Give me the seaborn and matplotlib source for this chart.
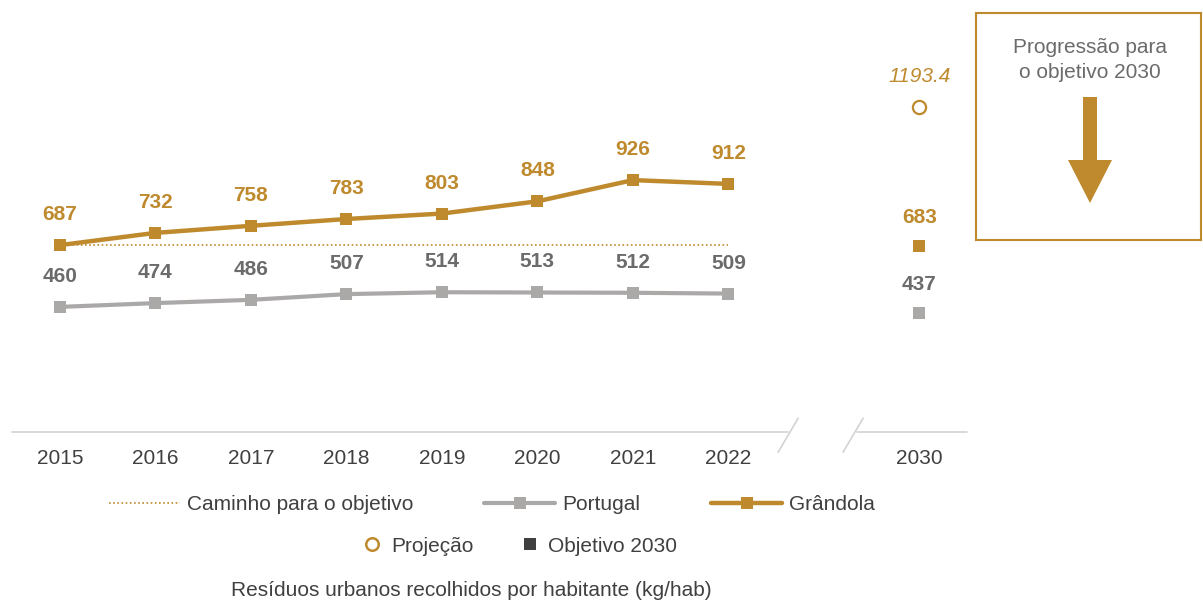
import matplotlib
matplotlib.use("Agg")
import matplotlib.pyplot as plt
import matplotlib.patches as mpatches
from matplotlib.lines import Line2D
import pandas as pd
import seaborn as sns

# ------------------------- Data -------------------------
years = ["2015", "2016", "2017", "2018", "2019", "2020", "2021", "2022"]
grandola = [687, 732, 758, 783, 803, 848, 926, 912]
portugal = [460, 474, 486, 507, 514, 513, 512, 509]
path_to_target = [687, 687, 687, 687, 687, 687, 687, 687]
target_year = "2030"
target_grandola = 683
target_portugal = 437
projection_grandola = 1193.4

GOLD = "#BF8A2E"
GREY_LINE = "#ABA8A8"
GREY_TEXT = "#6B6B6B"
DARK = "#404040"
FS = 15

# category positions: 2015..2022 then a gap, then 2030
pos = list(range(len(years)))
pos_2030 = len(years) + 1

df = pd.DataFrame({"pos": pos, "Grândola": grandola, "Portugal": portugal,
                   "Caminho": path_to_target})

# ------------------------- Style -------------------------
sns.set_style("white")
plt.rcParams["font.family"] = ["Liberation Sans", "DejaVu Sans"]

fig = plt.figure(figsize=(12.03, 6.01), dpi=100)
ax = fig.add_axes([0.01, 0.281, 0.794, 0.634])

# ------------------------- Lines -------------------------
sns.lineplot(data=df, x="pos", y="Caminho", ax=ax, color=GOLD, linewidth=1.2,
             linestyle=(0, (1, 1.5)), zorder=1)
sns.lineplot(data=df, x="pos", y="Portugal", ax=ax, color=GREY_LINE, linewidth=3,
             marker="s", markersize=8, markeredgewidth=0, zorder=2)
sns.lineplot(data=df, x="pos", y="Grândola", ax=ax, color=GOLD, linewidth=3.2,
             marker="s", markersize=9, markeredgewidth=0, zorder=3)

# 2030 points
ax.plot([pos_2030], [target_grandola], marker="s", markersize=9, color=GOLD,
        markeredgewidth=0, linestyle="none")
ax.plot([pos_2030], [target_portugal], marker="s", markersize=8, color=GREY_LINE,
        markeredgewidth=0, linestyle="none")
ax.plot([pos_2030], [projection_grandola], marker="o", markersize=9.5,
        markerfacecolor="white", markeredgecolor=GOLD, markeredgewidth=1.6,
        linestyle="none")

# ------------------------- Labels -------------------------
for x, v in zip(pos, grandola):
    ax.annotate(f"{v}", (x, v), xytext=(0, 22), textcoords="offset points",
                ha="center", va="center", fontsize=FS, fontweight="bold", color=GOLD)
for x, v in zip(pos, portugal):
    ax.annotate(f"{v}", (x, v), xytext=(0, 22), textcoords="offset points",
                ha="center", va="center", fontsize=FS, fontweight="bold", color=GREY_TEXT)
ax.annotate(f"{target_grandola}", (pos_2030, target_grandola), xytext=(0, 21),
            textcoords="offset points", ha="center", va="center", fontsize=FS,
            fontweight="bold", color=GOLD)
ax.annotate(f"{target_portugal}", (pos_2030, target_portugal), xytext=(0, 21),
            textcoords="offset points", ha="center", va="center", fontsize=FS,
            fontweight="bold", color=GREY_TEXT)
ax.annotate(f"{projection_grandola}", (pos_2030, projection_grandola), xytext=(0, 22),
            textcoords="offset points", ha="center", va="center", fontsize=FS,
            fontstyle="italic", color=GOLD)

# ------------------------- Axes -------------------------
ax.set_xlim(-0.5, pos_2030 + 0.5)
ax.set_ylim(0, 1400)
ax.set_xticks(pos + [pos_2030])
ax.set_xticklabels(years + [target_year], fontsize=FS, color=DARK)
ax.set_yticks([])
ax.tick_params(axis="x", length=0, pad=12)
ax.set_xlabel("")
ax.set_ylabel("")
for s in ax.spines.values():
    s.set_visible(False)

# broken x axis line
axis_col = "#D3D3D3"
ax.plot([-0.5, 7.62], [0, 0], color=axis_col, linewidth=1.2, clip_on=False)
ax.plot([8.35, pos_2030 + 0.5], [0, 0], color=axis_col, linewidth=1.2, clip_on=False)
ax.plot([7.52, 7.73], [-74, 51], color=axis_col, linewidth=1.2, clip_on=False)
ax.plot([8.20, 8.41], [-74, 51], color=axis_col, linewidth=1.2, clip_on=False)

# ------------------------- Legend -------------------------
h1 = [
    Line2D([], [], color=GOLD, linewidth=1.2, linestyle=(0, (1, 1.5))),
    Line2D([], [], color=GREY_LINE, linewidth=3, marker="s", markersize=8, markeredgewidth=0),
    Line2D([], [], color=GOLD, linewidth=3.2, marker="s", markersize=9, markeredgewidth=0),
]
fig.legend(h1, ["Caminho para o objetivo", "Portugal", "Grândola"],
           loc="center", bbox_to_anchor=(0.409, 0.160), ncol=3, frameon=False,
           fontsize=FS, handlelength=3.4, handletextpad=0.35, columnspacing=3.4,
           labelcolor=DARK)
h2 = [
    Line2D([], [], linestyle="none", marker="o", markersize=9, markerfacecolor="white",
           markeredgecolor=GOLD, markeredgewidth=1.8),
    Line2D([], [], linestyle="none", marker="s", markersize=9, color=DARK,
           markeredgewidth=0),
]
fig.legend(h2, ["Projeção", "Objetivo 2030"], loc="center", bbox_to_anchor=(0.432, 0.0915),
           ncol=2, frameon=False, fontsize=FS, handlelength=1, handletextpad=0.4,
           columnspacing=2.2, labelcolor=DARK)

fig.text(0.392, 0.018, "Resíduos urbanos recolhidos por habitante (kg/hab)",
         ha="center", va="center", fontsize=FS, color=DARK)

# ------------------------- Progress box -------------------------
bx = fig.add_axes([976 / 1203, 1 - 240 / 601, 225 / 1203, 227 / 601])
bx.set_xlim(0, 225)
bx.set_ylim(227, 0)
bx.set_xticks([])
bx.set_yticks([])
for s in bx.spines.values():
    s.set_color(GOLD)
    s.set_linewidth(1.5)
bx.text(114, 47, "Progressão para\no objetivo 2030", ha="center", va="center",
        fontsize=FS, color=GREY_TEXT, linespacing=1.35)
arrow = mpatches.Polygon([(107, 84), (121, 84), (121, 147), (136, 147),
                          (114, 190), (92, 147), (107, 147)],
                         closed=True, color=GOLD, linewidth=0)
bx.add_patch(arrow)

fig.savefig("out.png", dpi=100)
